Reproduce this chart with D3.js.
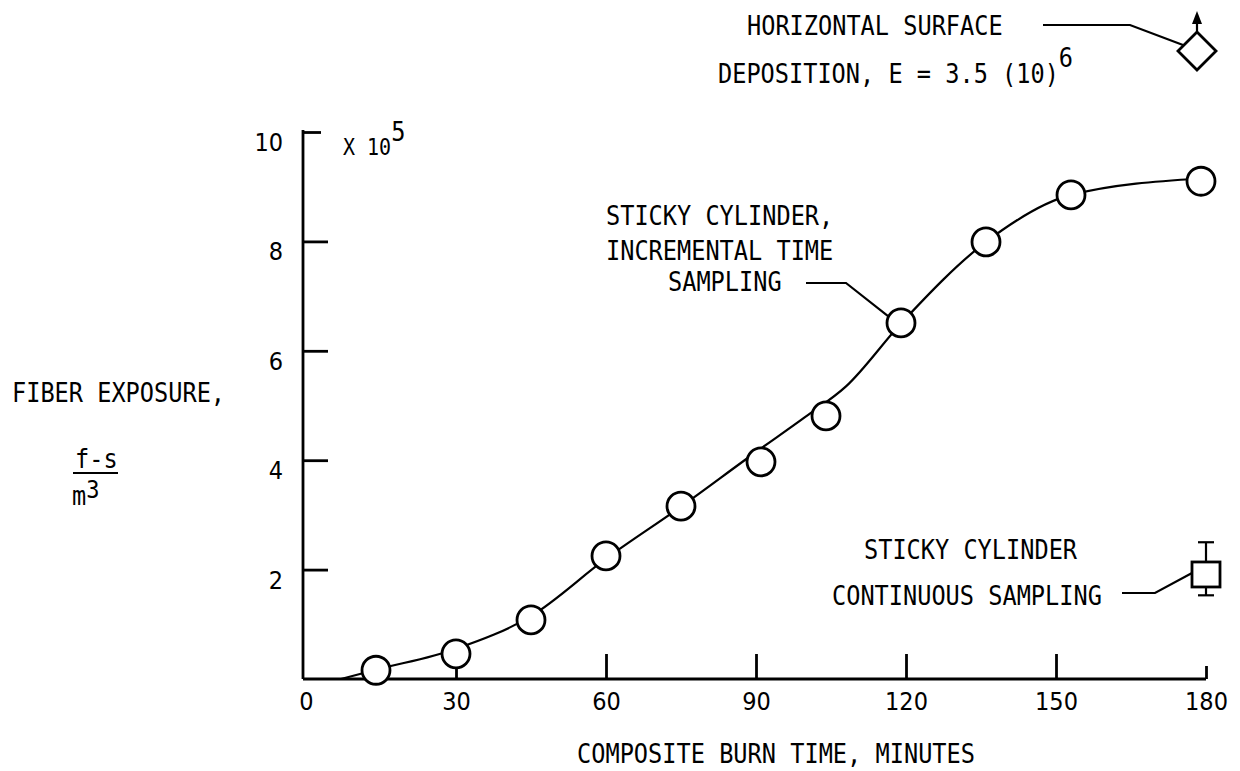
<!DOCTYPE html>
<html lang="en">
<head>
<meta charset="UTF-8">
<title>Fiber exposure vs composite burn time</title>
<script src="https://d3js.org/d3.v7.min.js"></script>
<style>
    body { margin: 0; background: #fff; }
    svg text { fill: #000; }
    .axis text {
        font-family: "DejaVu Sans Condensed", sans-serif;
        font-size: 25px;
    }
    .lbl {
        font-family: "DejaVu Sans Mono", monospace;
        font-size: 23.6px;
    }
    .axis path, .axis line { stroke: #000; stroke-width: 2.8px; }
    .mark { fill: #fff; stroke: #000; stroke-width: 2.8px; }
    .lead { fill: none; stroke: #000; stroke-width: 2.2px; }
</style>
</head>
<body>
<script>
    // incremental time sampling (circles)
    const sampleTimes = [14, 30, 45, 60, 75, 91, 104, 119, 136, 153, 179];
    const sampleExposure = [0.16, 0.46, 1.08, 2.25, 3.16, 3.97, 4.81, 6.51, 7.99, 8.85, 9.1];

    // faired curve drawn through the samples
    const fitTimes = [7, 14, 30, 45, 60, 75, 90, 100, 108, 119, 136, 153, 179];
    const fitExposure = [0, 0.17, 0.55, 1.15, 2.2, 3.15, 4.15, 4.8, 5.35, 6.5, 7.99, 8.85, 9.15];

    // continuous sampling (square with range)
    const contTime = [180];
    const contExposure = [1.92];
    const contLow = [1.53];
    const contHigh = [2.5];

    // horizontal surface deposition, off scale (arrow)
    const depTime = [178.2];
    const depExposure = [11.48];

    const xTicks = [0, 30, 60, 90, 120, 150, 180];
    const yTicks = [2, 4, 6, 8, 10];

    const width = 1240, height = 771;
    const svg = d3.select('body').append('svg')
        .attr('width', width)
        .attr('height', height);

    const x = d3.scaleLinear().domain([0, 180]).range([306, 1206]);
    const y = d3.scaleLinear().domain([0, 10]).range([679, 132]);

    // lettering is tall and narrow, stretch a mono face vertically
    function label(px, py, parts, anchor) {
        const t = svg.append('text').attr('class', 'lbl')
            .attr('text-anchor', anchor || 'start')
            .attr('transform', `translate(${px},${py}) scale(1,1.16)`);
        parts.forEach(p => {
            const s = t.append('tspan').text(p.text);
            if (p.dx != null) s.attr('dx', p.dx);
            if (p.dy != null) s.attr('dy', p.dy);
            if (p.size) s.style('font-size', p.size + 'px');
            if (p.len) s.attr('textLength', p.len).attr('lengthAdjust', 'spacing');
        });
        return t;
    }

    // axes, ticks point inward
    const yAxis = svg.append('g').attr('class', 'axis')
        .attr('transform', `translate(${x(0) - 3},0)`)
        .call(d3.axisLeft(y).tickValues(yTicks).tickSizeInner(-25).tickSizeOuter(0).tickPadding(20))
        .call(g => g.select('.domain').attr('d', `M0,${y(0)}V${y(10) - 2}`));
    yAxis.selectAll('.tick line').filter(d => d === 10).attr('x2', 18);
    yAxis.selectAll('text').attr('dy', '0.74em');

    const xAxis = svg.append('g').attr('class', 'axis')
        .attr('transform', `translate(0,${y(0)})`)
        .call(d3.axisBottom(x).tickValues(xTicks).tickSizeInner(-25).tickSizeOuter(0).tickPadding(13))
        .call(g => g.select('.domain').attr('d', `M${x(0) - 3},0H${x(180)}`));
    xAxis.selectAll('.tick line').filter(d => d === 0).remove();
    xAxis.selectAll('.tick line').filter(d => d === 180).attr('y2', -13);

    // faired curve
    const fit = fitTimes.map((t, i) => [t, fitExposure[i]]);
    svg.append('path')
        .attr('class', 'lead')
        .attr('stroke-width', 2.6)
        .attr('d', d3.line().x(d => x(d[0])).y(d => y(d[1])).curve(d3.curveMonotoneX)(fit));

    // sample circles
    svg.selectAll('circle.sample')
        .data(sampleTimes.map((t, i) => [t, sampleExposure[i]]))
        .enter().append('circle')
        .attr('class', 'mark sample')
        .attr('cx', d => x(d[0]))
        .attr('cy', d => y(d[1]))
        .attr('r', 14);

    // continuous sampling square with range bar
    const cx = x(contTime[0]), cy = y(contExposure[0]);
    svg.append('line').attr('class', 'lead').attr('stroke-width', 2.6)
        .attr('x1', cx).attr('x2', cx).attr('y1', y(contHigh[0])).attr('y2', y(contLow[0]));
    [contHigh[0], contLow[0]].forEach(v => {
        svg.append('line').attr('class', 'lead').attr('stroke-width', 2.6)
            .attr('x1', cx - 8).attr('x2', cx + 8).attr('y1', y(v)).attr('y2', y(v));
    });
    svg.append('rect').attr('class', 'mark')
        .attr('x', cx - 14).attr('y', cy - 12).attr('width', 28).attr('height', 25);

    // deposition diamond with arrow
    const dx = x(depTime[0]), dy = y(depExposure[0]);
    svg.append('line').attr('class', 'lead').attr('stroke-width', 2.6)
        .attr('x1', dx).attr('x2', dx).attr('y1', dy - 19).attr('y2', dy - 34);
    svg.append('path').attr('fill', '#000')
        .attr('d', `M${dx},${dy - 40}L${dx - 5},${dy - 27}L${dx + 5},${dy - 27}Z`);
    svg.append('path').attr('class', 'mark')
        .attr('d', `M${dx},${dy - 19}L${dx + 19},${dy}L${dx},${dy + 19}L${dx - 19},${dy}Z`);

    // axis titles
    label(12, 402, [{ text: 'FIBER EXPOSURE,' }]);
    label(75, 468, [{ text: 'f-s' }]);
    svg.append('line').attr('class', 'lead').attr('x1', 73).attr('x2', 118).attr('y1', 473).attr('y2', 473);
    label(72, 505, [{ text: 'm' }, { text: '3', dy: -6, size: 22 }]);

    label(343, 155, [{ text: 'X 10', size: 20 }, { text: '5', dy: -12 }]);

    label(577, 763, [{ text: 'COMPOSITE BURN TIME, MINUTES', len: 398 }]);

    // annotations
    label(606, 225, [{ text: 'STICKY CYLINDER,' }]);
    label(606, 260, [{ text: 'INCREMENTAL TIME' }]);
    label(668, 291, [{ text: 'SAMPLING' }]);
    const c119 = [x(sampleTimes[7]), y(sampleExposure[7])];
    svg.append('path').attr('class', 'lead')
        .attr('d', `M806,283H846L${c119[0] - 12},${c119[1] - 6}`);

    label(864, 559, [{ text: 'STICKY CYLINDER' }]);
    label(832, 605, [{ text: 'CONTINUOUS SAMPLING' }]);
    svg.append('path').attr('class', 'lead')
        .attr('d', `M1122,593H1155L${cx - 14},${cy - 1}`);

    label(747, 35, [{ text: 'HORIZONTAL SURFACE' }]);
    label(718, 83, [{ text: 'DEPOSITION, E = 3.5 (10)' }, { text: '6', dy: -14 }]);
    svg.append('path').attr('class', 'lead')
        .attr('d', `M1043,25H1130L${dx - 14},${dy - 6}`);
</script>
</body>
</html>
